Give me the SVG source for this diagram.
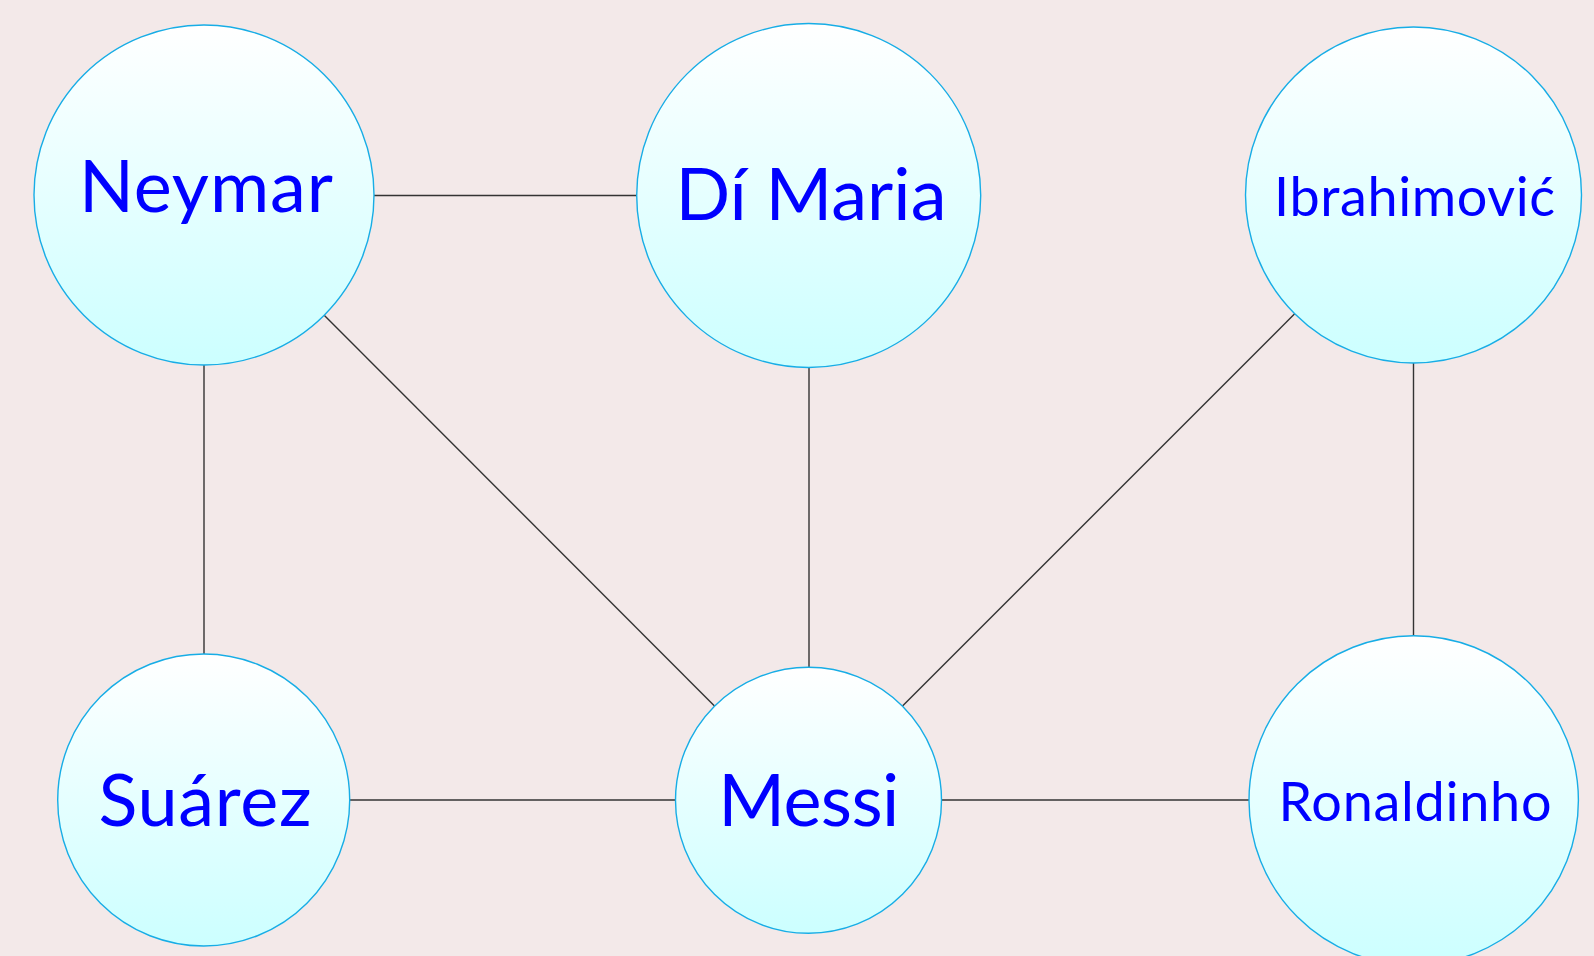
<svg xmlns="http://www.w3.org/2000/svg" width="1594" height="956" viewBox="0 0 1594 956">
<style>
.node{stroke:#17ade6;stroke-width:1.4;fill:url(#g)}
.lbl{fill:#0000ff;font-family:Lato,"Noto Sans",sans-serif;text-anchor:middle}
.big{font-size:72px}
.small{font-size:54px}
.edge{stroke:#333333;stroke-width:1.4;fill:none}
</style>
<defs>
<linearGradient id="g" x1="0" y1="0" x2="0" y2="1">
<stop offset="0" stop-color="#ffffff"/>
<stop offset="1" stop-color="#ccffff"/>
</linearGradient>
</defs>
<rect width="1594" height="956" fill="#f3e9e9"/>
<g id="connectors">
<line class="edge" x1="374" y1="195.5" x2="637" y2="195.5"/>
<line class="edge" x1="204" y1="365" x2="204" y2="654"/>
<line class="edge" x1="324.2" y1="315.2" x2="714.5" y2="706"/>
<line class="edge" x1="809" y1="367" x2="809" y2="667"/>
<line class="edge" x1="1294.7" y1="313.8" x2="902.5" y2="706"/>
<line class="edge" x1="1413.5" y1="363" x2="1413.5" y2="636"/>
<line class="edge" x1="350" y1="800" x2="675.5" y2="800"/>
<line class="edge" x1="941.5" y1="800" x2="1249" y2="800"/>
</g>
<g id="neymar">
<circle class="node" cx="204" cy="195" r="170"/>
<text class="lbl big" x="206" y="212" textLength="254" lengthAdjust="spacing">Neymar</text>
</g>
<g id="dimaria">
<circle class="node" cx="808.7" cy="195.5" r="172"/>
<text class="lbl big" x="811" y="220" textLength="271" lengthAdjust="spacing">Dí Maria</text>
</g>
<g id="ibrahimovic">
<circle class="node" cx="1413.5" cy="195" r="168"/>
<text class="lbl small" x="1414.6" y="216" textLength="281" lengthAdjust="spacing">Ibrahimović</text>
</g>
<g id="suarez">
<circle class="node" cx="203.7" cy="800" r="146"/>
<text class="lbl big" x="205" y="826" textLength="213" lengthAdjust="spacing">Suárez</text>
</g>
<g id="messi">
<circle class="node" cx="808.5" cy="800.3" r="133"/>
<text class="lbl big" x="808.8" y="825.7" textLength="181" lengthAdjust="spacing">Messi</text>
</g>
<g id="ronaldinho">
<circle class="node" cx="1413.7" cy="800.4" r="164.7"/>
<text class="lbl small" x="1415" y="821" textLength="273" lengthAdjust="spacing">Ronaldinho</text>
</g>
</svg>
